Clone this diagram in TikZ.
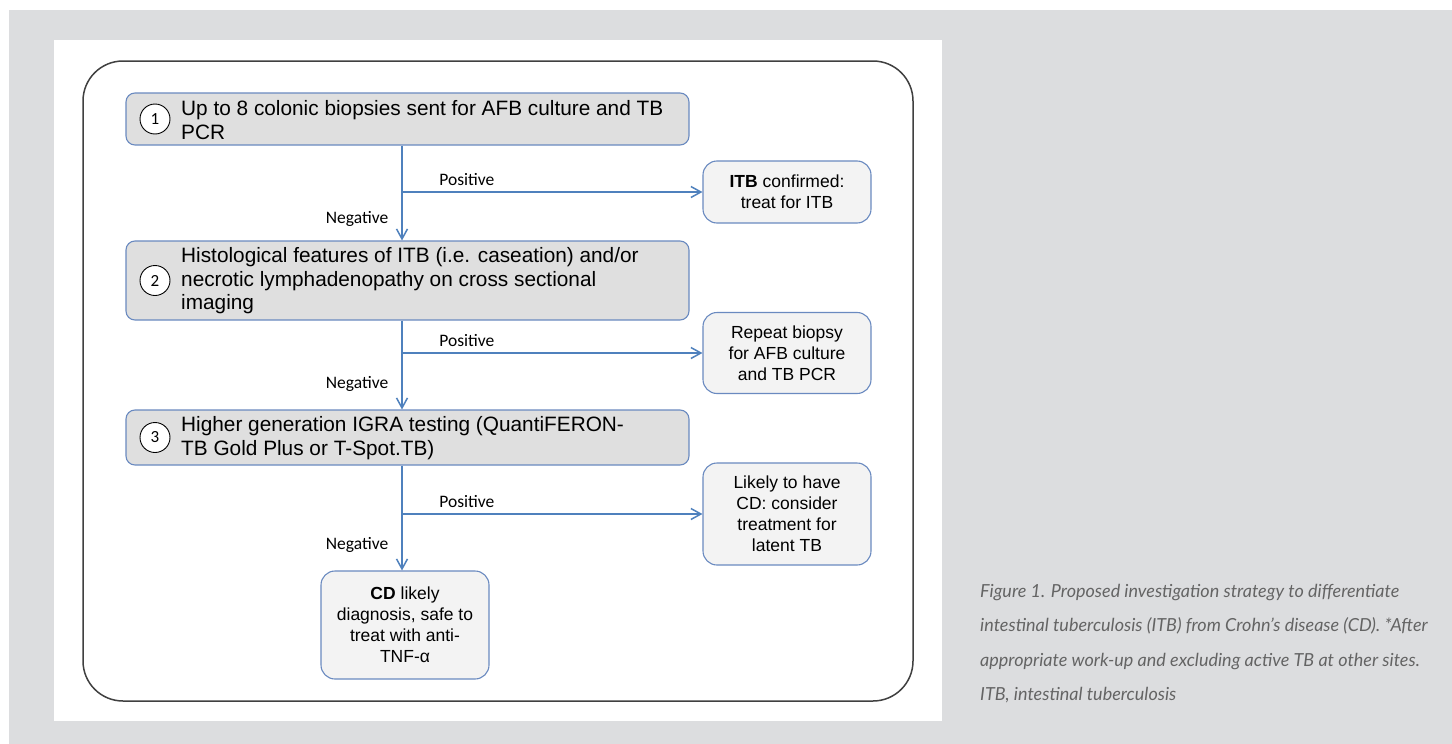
\documentclass[tikz,border=0pt]{standalone}
\usepackage{fontspec}
\setmainfont{Liberation Sans}
\newfontfamily\calibri{Carlito}
\newfontfamily\lato{Lato}
\usetikzlibrary{positioning,arrows.meta}

\definecolor{pagegrey}{HTML}{DCDDDF}
\definecolor{boxblue}{HTML}{6A8AC0}
\definecolor{boxgrey}{HTML}{DFDFDF}
\definecolor{outgrey}{HTML}{F3F3F3}
\definecolor{arrowblue}{HTML}{4F81BD}
\definecolor{framegrey}{HTML}{404040}
\definecolor{captiongrey}{HTML}{646464}

\begin{document}
\begin{tikzpicture}[x=1pt, y=-1pt, >={Straight Barb[length=10pt,width=11pt]},
	stepbox/.style={draw=boxblue, fill=boxgrey, line width=1.1pt, rounded corners=9pt, minimum width=563pt, inner sep=0pt},
	outbox/.style={draw=boxblue, fill=outgrey, line width=1.1pt, rounded corners=14pt, minimum width=168pt, inner sep=0pt, align=center, font=\fontsize{17.5}{21}\selectfont},
	num/.style={circle, draw=black, fill=white, line width=0.9pt, minimum size=30pt, inner sep=0pt, font=\calibri\fontsize{17}{17}\selectfont},
	steptext/.style={anchor=west, inner sep=0pt, align=left, font=\fontsize{20.8}{23.5}\selectfont},
	flow/.style={draw=arrowblue, line width=1.5pt},
	lbl/.style={font=\calibri\fontsize{17.5}{17.5}\selectfont, inner sep=2pt}]
	% page and panel
	\fill[white] (0,0) rectangle (1452,744);
	\fill[pagegrey] (9,10) rectangle (1452,744);
	\fill[white] (54,40) rectangle (942,721);
	\draw[framegrey, line width=1.5pt, rounded corners=40pt] (83,61) rectangle (913,701);

	% steps
	\node[stepbox, minimum height=52pt](s1) at (407.5,119){};
	\node[num](n1) at (155,119){1};
	\node[steptext](t1) at (181,120){Up to 8 colonic biopsies sent for AFB culture and TB\\PCR};

	\node[stepbox, minimum height=79pt](s2) at (407.5,280.5){};
	\node[num](n2) at (155,280.5){2};
	\node[steptext](t2) at (181,281){Histological features of ITB (i.e. caseation) and/or\\necrotic lymphadenopathy on cross sectional\\imaging};

	\node[stepbox, minimum height=55pt](s3) at (407.5,437.5){};
	\node[num](n3) at (155,437.5){3};
	\node[steptext](t3) at (181,438){Higher generation IGRA testing (QuantiFERON-\\TB Gold Plus or T-Spot.TB)};

	% outcomes
	\node[outbox, minimum height=62pt](itb) at (787,192){\textbf{ITB} confirmed:\\treat for ITB};
	\node[outbox, minimum height=81pt](rep) at (787,353){Repeat biopsy\\for AFB culture\\and TB PCR};
	\node[outbox, minimum height=102pt](lik) at (787,514){Likely to have\\CD: consider\\treatment for\\latent TB};
	\node[outbox, minimum height=108pt](cd) at (405,625){\textbf{CD} likely\\diagnosis, safe to\\treat with anti-\\TNF-α};

	% branch points
	\coordinate (b1) at (402,192);
	\coordinate (b2) at (402,353);
	\coordinate (b3) at (402,514);

	\draw[flow] (s1.south -| b1) -- (b1);
	\draw[flow,->] (b1) -- node[lbl, left=11pt, pos=0.55]{Negative} (s2.north -| b1);
	\draw[flow,->] (b1) -- node[lbl, above=4pt, pos=0.216]{Positive} (itb.west);

	\draw[flow] (s2.south -| b2) -- (b2);
	\draw[flow,->] (b2) -- node[lbl, left=11pt, pos=0.55]{Negative} (s3.north -| b2);
	\draw[flow,->] (b2) -- node[lbl, above=4pt, pos=0.216]{Positive} (rep.west);

	\draw[flow] (s3.south -| b3) -- (b3);
	\draw[flow,->] (b3) -- node[lbl, left=11pt, pos=0.55]{Negative} (cd.north -| b3);
	\draw[flow,->] (b3) -- node[lbl, above=4pt, pos=0.216]{Positive} (lik.west);

	% caption
	\node[anchor=north west, inner sep=0pt, align=left, text=captiongrey, font=\lato\itshape\fontsize{18}{34.5}\selectfont](cap) at (980,584){Figure 1. Proposed investigation strategy to differentiate\\intestinal tuberculosis (ITB) from Crohn’s disease (CD). *After\\appropriate work-up and excluding active TB at other sites.\\ITB, intestinal tuberculosis};
\end{tikzpicture}
\end{document}
